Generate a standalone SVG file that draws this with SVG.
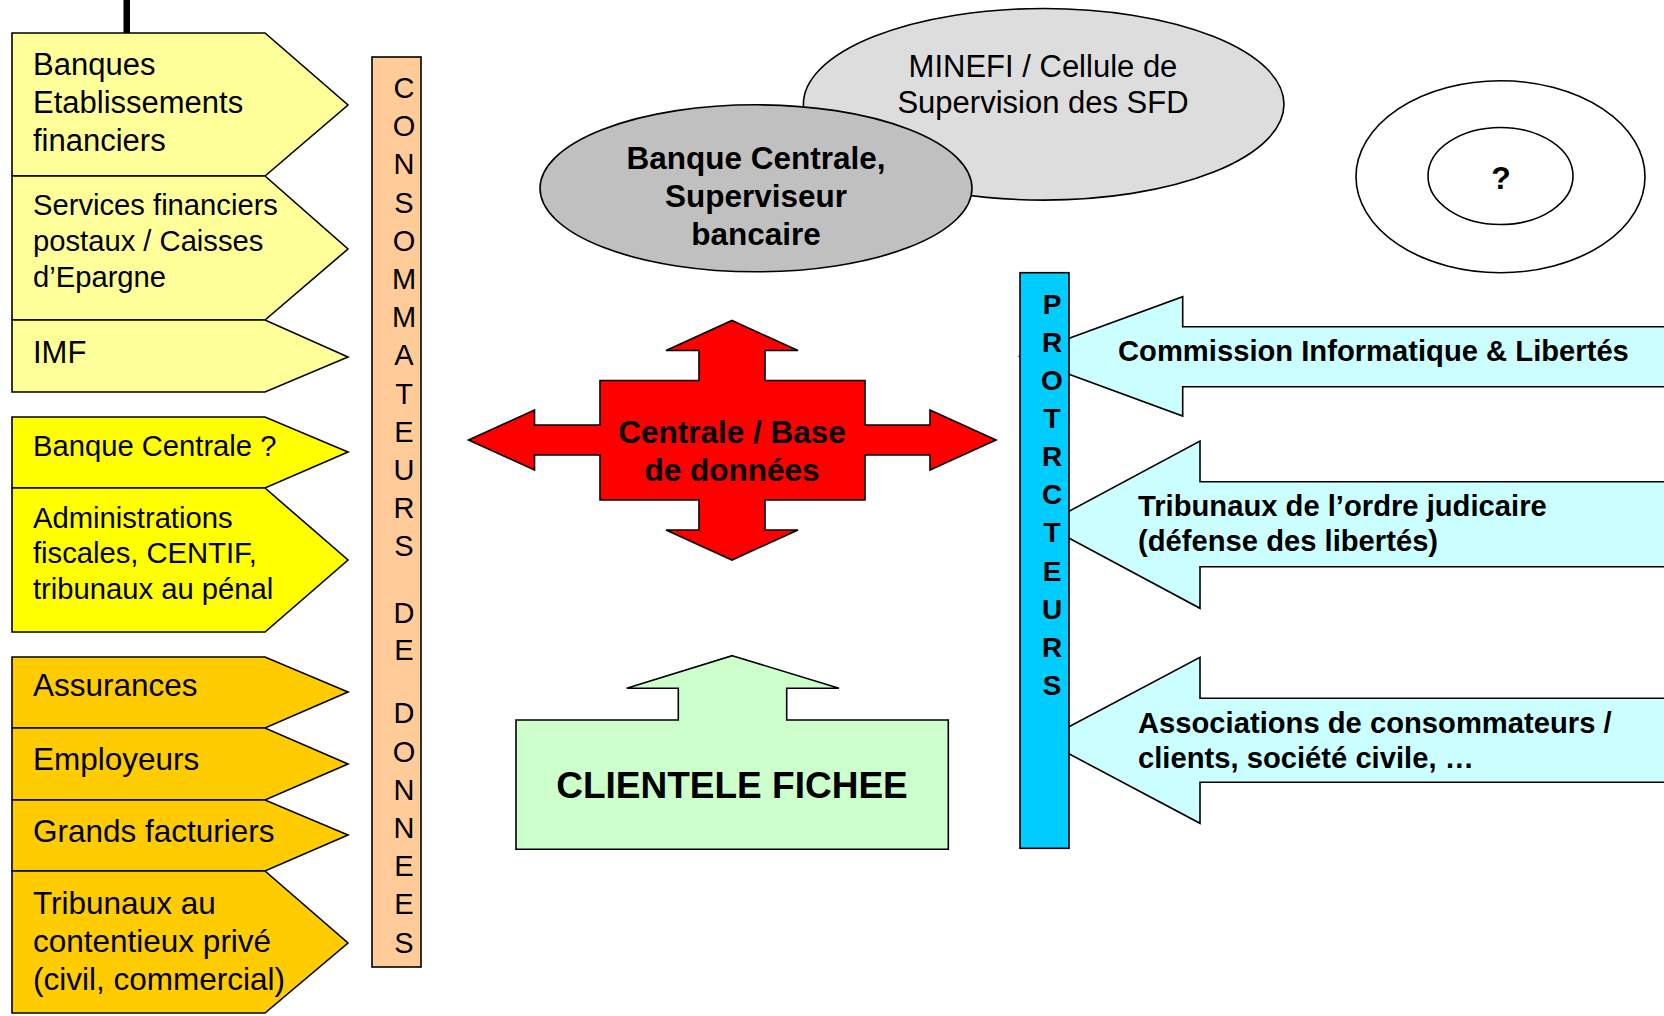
<svg xmlns="http://www.w3.org/2000/svg" width="1664" height="1016" viewBox="0 0 1664 1016">
<style>
.t{font-family:"Liberation Sans",Arial,Helvetica,sans-serif;fill:#000}
.b{font-weight:bold}
.s{stroke:#000;stroke-width:1.6;stroke-linejoin:miter}
.pale{fill:#FFFF99}
.yel{fill:#FFFF00}
.org{fill:#FFCC00}
.cy{fill:#CCFFFF}
.mid{text-anchor:middle}
</style>
<rect width="1664" height="1016" fill="#FFFFFF"/>
<g id="connectors">
<rect x="123.5" y="0" width="6.5" height="33" fill="#000"/>
</g>
<g id="banques">
<polygon class="s pale" points="12,33 265,33 348,105 265,176 12,176"/>
<text class="t" font-size="31" x="33" y="75">Banques</text>
<text class="t" font-size="31" x="33" y="113">Etablissements</text>
<text class="t" font-size="31" x="33" y="150.5">financiers</text>
</g>
<g id="services-postaux">
<polygon class="s pale" points="12,176 265,176 348,249 265,320 12,320"/>
<text class="t" font-size="29.2" x="33" y="215">Services financiers</text>
<text class="t" font-size="29.2" x="33" y="251">postaux / Caisses</text>
<text class="t" font-size="29.2" x="33" y="287">d’Epargne</text>
</g>
<g id="imf">
<polygon class="s pale" points="12,320 265,320 348,357 265,392 12,392"/>
<text class="t" font-size="31" x="33" y="363">IMF</text>
</g>
<g id="banque-centrale-q">
<polygon class="s yel" points="12,417 265,417 348,452 265,488 12,488"/>
<text class="t" font-size="29.2" x="33" y="456">Banque Centrale ?</text>
</g>
<g id="administrations">
<polygon class="s yel" points="12,488 265,488 348,560 265,632 12,632"/>
<text class="t" font-size="29.2" x="33" y="528">Administrations</text>
<text class="t" font-size="29.2" x="33" y="563">fiscales, CENTIF,</text>
<text class="t" font-size="29.2" x="33" y="599">tribunaux au pénal</text>
</g>
<g id="assurances">
<polygon class="s org" points="12,657 265,657 348,692 265,728 12,728"/>
<text class="t" font-size="31.5" x="33" y="696">Assurances</text>
</g>
<g id="employeurs">
<polygon class="s org" points="12,728 265,728 348,764 265,800 12,800"/>
<text class="t" font-size="31.5" x="33" y="770">Employeurs</text>
</g>
<g id="grands-facturiers">
<polygon class="s org" points="12,800 265,800 348,835 265,871 12,871"/>
<text class="t" font-size="31.5" x="33" y="842">Grands facturiers</text>
</g>
<g id="tribunaux-prive">
<polygon class="s org" points="12,871 265,871 348,943 265,1013 12,1013"/>
<text class="t" font-size="31.5" x="33" y="914">Tribunaux au</text>
<text class="t" font-size="31.5" x="33" y="952">contentieux privé</text>
<text class="t" font-size="31.5" x="33" y="990">(civil, commercial)</text>
</g>
<g id="consommateurs">
<rect class="s" x="372" y="57" width="49" height="910" fill="#FFCC99"/>
<g class="t mid" font-size="29">
<text x="404" y="98">C</text>
<text x="404" y="136.2">O</text>
<text x="404" y="174.4">N</text>
<text x="404" y="212.6">S</text>
<text x="404" y="250.8">O</text>
<text x="404" y="289">M</text>
<text x="404" y="327.2">M</text>
<text x="404" y="365.4">A</text>
<text x="404" y="403.6">T</text>
<text x="404" y="441.8">E</text>
<text x="404" y="480">U</text>
<text x="404" y="518.2">R</text>
<text x="404" y="556.4">S</text>
<text x="404" y="622.5">D</text>
<text x="404" y="660">E</text>
<text x="404" y="723.3">D</text>
<text x="404" y="761.5">O</text>
<text x="404" y="799.7">N</text>
<text x="404" y="837.9">N</text>
<text x="404" y="876.1">E</text>
<text x="404" y="914.3">E</text>
<text x="404" y="952.5">S</text>
</g>
</g>
<g id="minefi">
<ellipse class="s" cx="1043.7" cy="104.3" rx="240.3" ry="95.8" fill="#DDDDDD"/>
<text class="t mid" font-size="31" x="1043" y="77">MINEFI / Cellule de</text>
<text class="t mid" font-size="31" x="1043" y="113">Supervision des SFD</text>
</g>
<g id="banque-centrale-superviseur">
<ellipse class="s" cx="756" cy="188.3" rx="216" ry="83.5" fill="#C0C0C0"/>
<text class="t b mid" font-size="31.5" x="756" y="168.5">Banque Centrale,</text>
<text class="t b mid" font-size="31.5" x="756" y="206.5">Superviseur</text>
<text class="t b mid" font-size="31.5" x="756" y="244.5">bancaire</text>
</g>
<g id="inconnu">
<ellipse class="s" cx="1500.5" cy="176.7" rx="144.5" ry="96" fill="#FFFFFF"/>
<ellipse class="s" cx="1500.5" cy="176" rx="72.5" ry="48.5" fill="#FFFFFF"/>
<text class="t b mid" font-size="32" x="1501" y="189">?</text>
</g>
<g id="centrale-base">
<polygon class="s" fill="#FF0000" points="732,320.5 798,350.5 765,350.5 765,380.5 865,380.5 865,425 930,425 930,410 996,440 930,470 930,455 865,455 865,500 765,500 765,530 798,530 732,560 666,530 699,530 699,500 600,500 600,455 534.5,455 534.5,470 468.5,440 534.5,410 534.5,425 600,425 600,380.5 699,380.5 699,350.5 666,350.5"/>
<text class="t b mid" font-size="31.5" x="732" y="443">Centrale / Base</text>
<text class="t b mid" font-size="31.5" x="732" y="481">de données</text>
</g>
<g id="clientele-fichee">
<polygon class="s" fill="#CCFFCC" points="732.3,655.7 839,688.3 786.7,688.3 786.7,720 948.3,720 948.3,849.3 516,849.3 516,720 678.3,720 678.3,688.3 626.7,688.3"/>
<text class="t b mid" font-size="37" x="732" y="798">CLIENTELE FICHEE</text>
</g>
<g id="commission">
<polygon class="s cy" points="1020,356.3 1182.7,296.7 1182.7,326.7 1680,326.7 1680,386.7 1182.7,386.7 1182.7,416"/>
<text class="t b" font-size="29.2" x="1118" y="360.5">Commission Informatique &amp; Libertés</text>
</g>
<g id="tribunaux-judiciaire">
<polygon class="s cy" points="1044,524.7 1200,441 1200,481.7 1680,481.7 1680,566.7 1200,566.7 1200,608.3"/>
<text class="t b" font-size="29.2" x="1138" y="516">Tribunaux de l’ordre judicaire</text>
<text class="t b" font-size="29.2" x="1138" y="551">(défense des libertés)</text>
</g>
<g id="associations">
<polygon class="s cy" points="1043.5,740.3 1200,657.3 1200,698.3 1680,698.3 1680,782.3 1200,782.3 1200,823.3"/>
<text class="t b" font-size="29.2" x="1138" y="733">Associations de consommateurs /</text>
<text class="t b" font-size="29.2" x="1138" y="768">clients, société civile, …</text>
</g>
<g id="protecteurs">
<rect class="s" x="1020" y="272.7" width="49" height="575.6" fill="#00CCFF"/>
<g class="t b mid" font-size="28">
<text x="1052" y="313.5">P</text>
<text x="1052" y="351.7">R</text>
<text x="1052" y="389.8">O</text>
<text x="1052" y="428">T</text>
<text x="1052" y="466.1">R</text>
<text x="1052" y="504.3">C</text>
<text x="1052" y="542.4">T</text>
<text x="1052" y="580.6">E</text>
<text x="1052" y="618.7">U</text>
<text x="1052" y="656.9">R</text>
<text x="1052" y="695">S</text>
</g>
</g>
</svg>
